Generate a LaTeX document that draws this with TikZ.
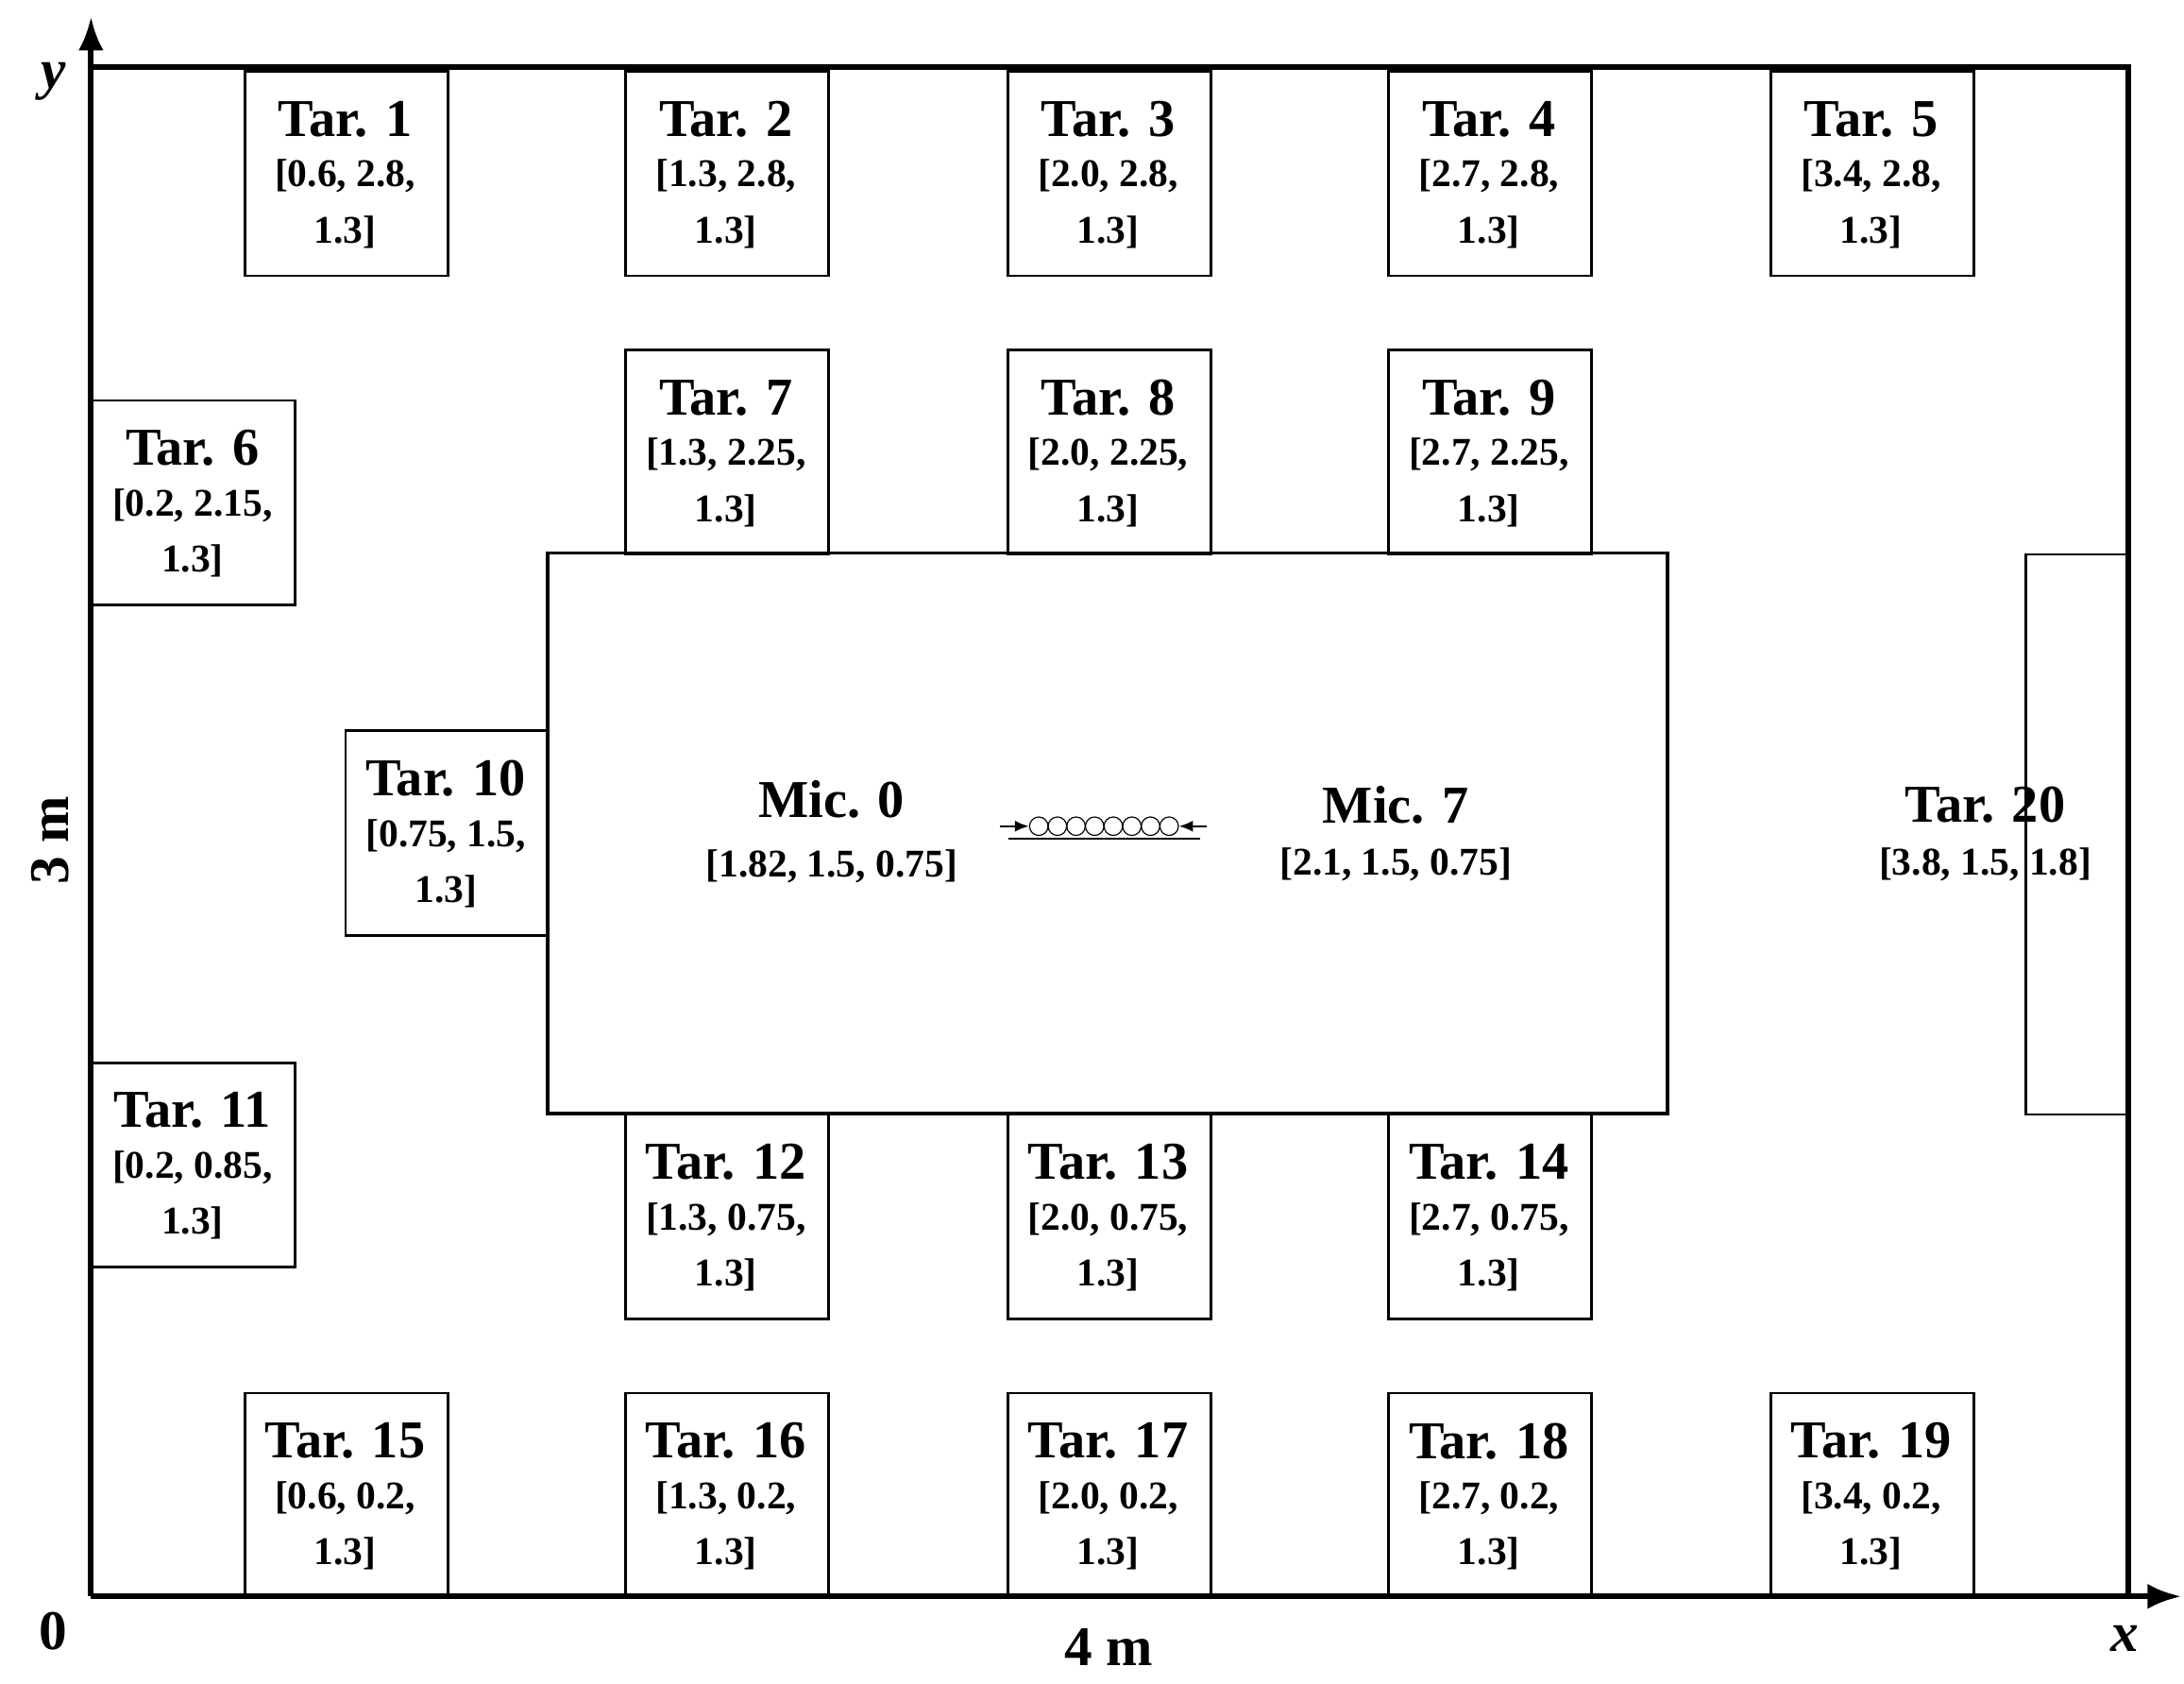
\documentclass[tikz,border=0pt]{standalone}
\usepackage{fontspec}
\setmainfont{Liberation Serif}
\usetikzlibrary{arrows.meta}
\begin{document}
\begin{tikzpicture}[x=0.5pt,y=-0.5pt,
  tbox/.style={draw,line width=0.9pt,minimum width=72.5pt,minimum height=73pt,anchor=north west,inner sep=0pt},
  ttl/.style={font=\fontsize{19}{22}\selectfont\bfseries},
  crd/.style={font=\fontsize{14}{20}\selectfont\bfseries,align=center},
  lab/.style={font=\fontsize{20}{24}\selectfont\bfseries}]
\useasboundingbox (0,0) rectangle (1560,1202);
% frame
\draw[line width=2pt] (65,48) -- (1520,48) -- (1520,1140);
\draw[line width=2pt,-{Latex[length=12pt,width=9pt]}] (65,1140) -- (65,12);
\draw[line width=2pt,-{Latex[length=12pt,width=9pt]}] (65,1140) -- (1558,1140);
\node[lab,font=\fontsize{20}{24}\selectfont\bfseries\itshape] (ly) at (38,58) {y};
\node[lab,font=\fontsize{20}{24}\selectfont\bfseries\itshape] (lx) at (1518,1170) {x};
\node[lab] (l0) at (38,1165) {0};
\node[lab] (l4) at (792,1176) {4 m};
\node[lab,rotate=90] (l3) at (36,600) {3 m};
% table
\draw[line width=1.2pt] (391,395) rectangle (1191,795);
\node[tbox,minimum width=36pt,minimum height=200pt] (t20) at (1446,395) {};
% targets
\newcommand{\tar}[6]{%
  \node[tbox] (b#1) at (#2,#3) {};
  \node[ttl] (n#1) at (#2+72.5,#3+35) {Tar. #1};
  \node[crd,anchor=north] (c#1) at (#2+72.5,#3+57) {[#4, #5,\\#6]};}
\tar{1}{174}{50}{0.6}{2.8}{1.3}
\tar{2}{446}{50}{1.3}{2.8}{1.3}
\tar{3}{719}{50}{2.0}{2.8}{1.3}
\tar{4}{991}{50}{2.7}{2.8}{1.3}
\tar{5}{1264}{50}{3.4}{2.8}{1.3}
\tar{6}{65}{285}{0.2}{2.15}{1.3}
\tar{7}{446}{249}{1.3}{2.25}{1.3}
\tar{8}{719}{249}{2.0}{2.25}{1.3}
\tar{9}{991}{249}{2.7}{2.25}{1.3}
\tar{10}{246}{521}{0.75}{1.5}{1.3}
\tar{11}{65}{758}{0.2}{0.85}{1.3}
\tar{12}{446}{795}{1.3}{0.75}{1.3}
\tar{13}{719}{795}{2.0}{0.75}{1.3}
\tar{14}{991}{795}{2.7}{0.75}{1.3}
\tar{15}{174}{994}{0.6}{0.2}{1.3}
\tar{16}{446}{994}{1.3}{0.2}{1.3}
\tar{17}{719}{994}{2.0}{0.2}{1.3}
\tar{18}{991}{994}{2.7}{0.2}{1.3}
\tar{19}{1264}{994}{3.4}{0.2}{1.3}
\node[ttl] (n20) at (1418,575) {Tar. 20};
\node[crd] (c20) at (1418,617) {[3.8, 1.5, 1.8]};
% mics
\node[ttl] (m0) at (594,571) {Mic. 0};
\node[crd] (m0c) at (594,619) {[1.82, 1.5, 0.75]};
\node[ttl] (m7) at (997,575) {Mic. 7};
\node[crd] (m7c) at (997,617) {[2.1, 1.5, 0.75]};
\foreach \i in {0,...,7} \draw[line width=0.4pt] (742+\i*13.3,590) circle (3.3pt);
\draw[line width=0.8pt] (720,599) -- (857,599);
\coordinate (al) at (714,590); \coordinate (ae) at (735,590);
\coordinate (ar) at (862,590); \coordinate (ae2) at (842,590);
\draw[line width=0.8pt,-{Latex[length=5pt,width=4pt]}] (al) -- (ae);
\draw[line width=0.8pt,-{Latex[length=5pt,width=4pt]}] (ar) -- (ae2);
\end{tikzpicture}
\end{document}
